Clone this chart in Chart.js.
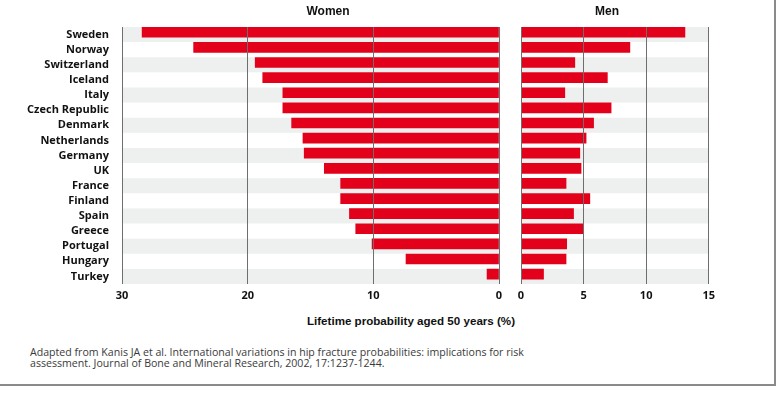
<!DOCTYPE html>
<html>
<head>
<meta charset="utf-8">
<script src="https://cdn.jsdelivr.net/npm/chart.js@4.4.1/dist/chart.umd.min.js"></script>
<style>
  body { margin: 0; background: #fff; }
  #wrap { position: relative; width: 778px; height: 393px; overflow: hidden; }
  #frame { position: absolute; left: 0; top: 0; width: 774px; height: 384px;
           border-right: 2px solid #8a8a8a; border-bottom: 2px solid #8a8a8a; }
  canvas { position: absolute; top: 0; }
  .lbl { position: absolute; font: bold 12px 'Liberation Sans', Arial, sans-serif; color: #111; white-space: nowrap; }
  #note { position: absolute; left: 30px; top: 347px; font: 10.6px/11px 'Open Sans', sans-serif; color: #3a3a3a; white-space: nowrap; }
</style>
</head>
<body>
<div id="wrap">
  <div id="frame"></div>
  <canvas id="women" width="510" height="304" style="left:0"></canvas>
  <canvas id="men" width="209" height="304" style="left:511px"></canvas>
  <div class="lbl" style="left:278px;top:4px;width:100px;text-align:center">Women</div>
  <div class="lbl" style="left:557px;top:4px;width:100px;text-align:center">Men</div>
  <div class="lbl" style="left:261px;top:314px;width:300px;text-align:center;font-size:11.6px">Lifetime probability aged 50 years (%)</div>
  <div id="note">Adapted from Kanis JA et al. International variations in hip fracture probabilities: implications for risk<br>assessment. Journal of Bone and Mineral Research, 2002, 17:1237-1244.</div>
</div>
<script>
const countries = ['Sweden', 'Norway', 'Switzerland', 'Iceland', 'Italy', 'Czech Republic', 'Denmark',
  'Netherlands', 'Germany', 'UK', 'France', 'Finland', 'Spain', 'Greece', 'Portugal', 'Hungary', 'Turkey'];
const women = [28.4, 24.3, 19.4, 18.8, 17.2, 17.2, 16.5, 15.6, 15.5, 13.9, 12.6, 12.6, 11.9, 11.4, 10.1, 7.4, 0.95];
const men = [13.1, 8.7, 4.3, 6.9, 3.5, 7.2, 5.8, 5.2, 4.7, 4.8, 3.6, 5.5, 4.2, 5.0, 3.65, 3.6, 1.8];

const red = '#e2001a';
const stripe = '#eef0f0';
const gridColor = '#6e6e6e';
const tickFont = { family: "'Open Sans', sans-serif", size: 11, weight: 'bold' };

// alternating row bands behind the bars
const stripes = {
  id: 'stripes',
  beforeDraw(chart) {
    const { ctx, chartArea: { left, right, top, height } } = chart;
    const h = height / countries.length;
    ctx.save();
    ctx.fillStyle = stripe;
    for (let i = 0; i < countries.length; i += 2) {
      ctx.fillRect(left, top + i * h, right - left, h);
    }
    ctx.restore();
  }
};

// bars sit in the upper part of each row
const barShift = {
  id: 'barShift',
  beforeDatasetsDraw(chart) { chart.ctx.save(); chart.ctx.translate(0, -2.3); },
  afterDatasetsDraw(chart) { chart.ctx.restore(); }
};

function makeChart(id, values, opts) {
  return new Chart(document.getElementById(id), {
    type: 'bar',
    data: {
      labels: countries,
      datasets: [{ data: values, backgroundColor: red, barThickness: 10, borderWidth: 0 }]
    },
    options: {
      indexAxis: 'y',
      responsive: false,
      animation: false,
      layout: { padding: opts.padding },
      plugins: { legend: { display: false }, tooltip: { enabled: false } },
      scales: {
        x: {
          min: 0,
          max: opts.max,
          reverse: opts.reverse,
          afterFit(scale) { scale.height = 20; },
          border: { display: false },
          grid: { color: gridColor, drawTicks: false, z: 1 },
          ticks: { stepSize: opts.step, padding: 5, color: '#111', font: tickFont }
        },
        y: {
          display: opts.showLabels,
          afterFit(scale) { scale.width = opts.showLabels ? 122 : 0; },
          border: { display: false },
          grid: { display: false, drawTicks: false },
          ticks: { autoSkip: false, padding: 13, color: '#111', font: tickFont }
        }
      }
    },
    plugins: [stripes, barShift]
  });
}

makeChart('women', women, { max: 30, step: 10, reverse: true, showLabels: true,
  padding: { left: 0, right: 11, top: 27, bottom: 0 } });
makeChart('men', men, { max: 15, step: 5, reverse: false, showLabels: false,
  padding: { left: 10, right: 8, top: 27, bottom: 0 } });
</script>
</body>
</html>
